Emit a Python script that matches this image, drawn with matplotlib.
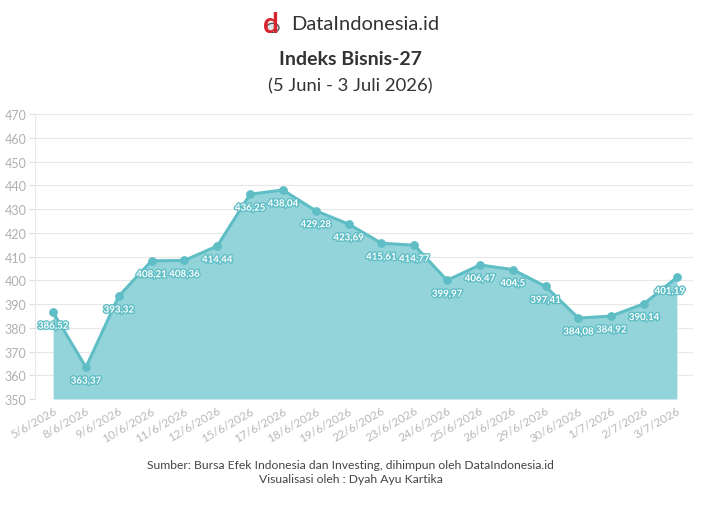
import matplotlib
matplotlib.use("Agg")
import matplotlib.pyplot as plt
import matplotlib.patheffects as pe
from matplotlib.patches import Circle

dates = ["5/6/2026", "8/6/2026", "9/6/2026", "10/6/2026", "11/6/2026", "12/6/2026",
         "15/6/2026", "17/6/2026", "18/6/2026", "19/6/2026", "22/6/2026", "23/6/2026",
         "24/6/2026", "25/6/2026", "26/6/2026", "29/6/2026", "30/6/2026", "1/7/2026",
         "2/7/2026", "3/7/2026"]
values = [386.52, 363.37, 393.32, 408.21, 408.36, 414.44, 436.25, 438.04, 429.28,
          423.69, 415.61, 414.77, 399.97, 406.47, 404.5, 397.41, 384.08, 384.92,
          390.14, 401.19]
labels = ["386,52", "363,37", "393,32", "408,21", "408,36", "414,44", "436,25", "438,04",
          "429,28", "423,69", "415,61", "414,77", "399,97", "406,47", "404,5", "397,41",
          "384,08", "384,92", "390,14", "401,19"]
yticks = list(range(350, 471, 10))

plt.rcParams['font.family'] = ['Lato', 'DejaVu Sans']

fig = plt.figure(figsize=(7.01, 5.06), dpi=100)
fig.patch.set_facecolor("white")
ax = fig.add_axes([0.05, 0.2095, 0.939, 0.563])

x = list(range(len(values)))
line_c = "#5fbec5"
fill_c = "#93d4da"
ax.fill_between(x, values, 350, color=fill_c, lw=0, zorder=2)
ax.plot(x, values, color=line_c, lw=2.2, zorder=3)
ax.scatter(x, values, s=28, color=line_c, zorder=4)

for i, (v, t) in enumerate(zip(values, labels)):
    ha = "center"
    dx = 0
    if i == len(values) - 1:
        ha = "right"
        dx = 6
    ax.annotate(t, (i, v), xytext=(dx, -10), textcoords="offset points",
                ha=ha, va="center", fontsize=7, fontweight="bold", color="white",
                zorder=5,
                path_effects=[pe.withStroke(linewidth=2.0, foreground=line_c)])

ax.set_xlim(-0.55, len(values) - 0.5)
ax.set_ylim(350, 470)
ax.set_yticks(yticks)
ax.set_yticklabels([str(t) for t in yticks], fontsize=9, color="#b0b0b0")
ax.set_xticks(x)
ax.set_xticklabels(dates, rotation=30, ha="right", rotation_mode="anchor",
                   fontsize=8.5, color="#b8b8b8")
ax.grid(axis="y", color="#e8e8e8", lw=0.9, zorder=0)
ax.tick_params(axis="y", length=4, color="#dddddd", pad=2)
ax.tick_params(axis="x", length=0, pad=4)
for s in ["top", "right", "bottom"]:
    ax.spines[s].set_visible(False)
ax.spines["left"].set_color("#e8e8e8")

# header
fig.text(0.387, 0.951, "d", fontsize=20, fontweight="bold", color="#d9232e",
         ha="center", va="center")
fig.patches.append(Circle((0.389, 0.943), 0.009, transform=fig.transFigure,
                          facecolor="#dfe6e8", edgecolor="#555555", lw=1.0))
fig.text(0.415, 0.951, "DataIndonesia.id", fontsize=14.5, color="#333333",
         ha="left", va="center")
fig.text(0.5, 0.882, "Indeks Bisnis-27", fontsize=14, fontweight="bold",
         color="#333333", ha="center", va="center")
fig.text(0.5, 0.830, "(5 Juni - 3 Juli 2026)", fontsize=13.3, color="#333333",
         ha="center", va="center")

fig.text(0.5, 0.081, "Sumber: Bursa Efek Indonesia dan Investing, dihimpun oleh DataIndonesia.id",
         fontsize=8.7, color="#444444", ha="center", va="center")
fig.text(0.5, 0.052, "Visualisasi oleh : Dyah Ayu Kartika",
         fontsize=8.7, color="#444444", ha="center", va="center")

fig.savefig("out.png", dpi=100)
